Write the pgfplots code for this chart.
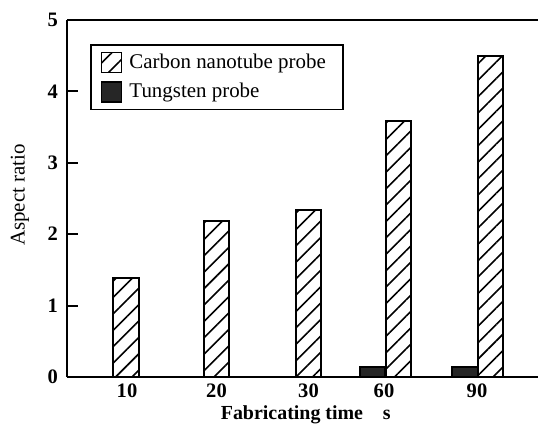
\documentclass[border=0pt]{standalone}
\usepackage{fontspec}
\setmainfont{Liberation Serif}
\usepackage{pgfplots}
\pgfplotsset{compat=1.18}
\usetikzlibrary{patterns.meta}

\begin{document}
\begin{tikzpicture}
\begin{axis}[
  scale only axis, width=235.5bp, height=178.5bp,
  xmin=0, xmax=471, ymin=0, ymax=5,
  axis x line*=bottom, axis y line*=left,
  axis line style={line width=1.2bp, -},
  ytick={0,1,2,3,4,5},
  xtick={60,149.5,241.5,317,410}, xticklabels={10,20,30,60,90},
  major x tick style={draw=none},
  tick align=inside, major tick length=5.5bp,
  major tick style={line width=1bp, black},
  ticklabel style={font=\fontsize{10.3}{12}\selectfont\bfseries},
  /pgf/number format/assume math mode=true,
  yticklabel style={xshift=-1bp},
  ylabel={Aspect ratio},
  ylabel style={at={(axis description cs:-0.1,0.51)}, anchor=center, font=\fontsize{10.5}{12}\selectfont},
  xlabel={\bfseries Fabricating time\quad s},
  xlabel style={at={(axis description cs:0.507,-0.105)}, anchor=center, font=\fontsize{10}{12}\selectfont},
  legend style={draw, line width=0.8bp, at={(axis description cs:0.049,0.933)}, anchor=north west,
    inner xsep=5bp, inner ysep=2.5bp, row sep=2bp, font=\fontsize{10.5}{12}\selectfont,
    nodes={inner xsep=3.5bp}},
  legend cell align=left,
  legend image code/.code={\draw[#1, line width=0.8bp] (0bp,-5bp) rectangle (10bp,5bp);},
]
\addplot[ybar, bar width=25.5, bar shift=0pt, draw=black, line width=1bp,
  pattern={Lines[angle=45, distance=5.8bp, line width=0.8bp]}]
  coordinates {(59,1.38) (149.5,2.19) (241.5,2.34) (331.5,3.59) (423.5,4.49)};
\addlegendentry{Carbon nanotube probe}
\addplot[ybar, bar width=25.5, bar shift=0pt, draw=black, line width=1bp, fill=black!85]
  coordinates {(305.5,0.14) (398,0.14)};
\addlegendentry{Tungsten probe}
\draw[line width=1.2bp] (rel axis cs:0,1) -- (rel axis cs:1,1);
\end{axis}
\pgfresetboundingbox
\path ([xshift=-33.5bp,yshift=-25bp]current axis.south west) rectangle ([yshift=10bp]current axis.north east);
\end{tikzpicture}
\end{document}
